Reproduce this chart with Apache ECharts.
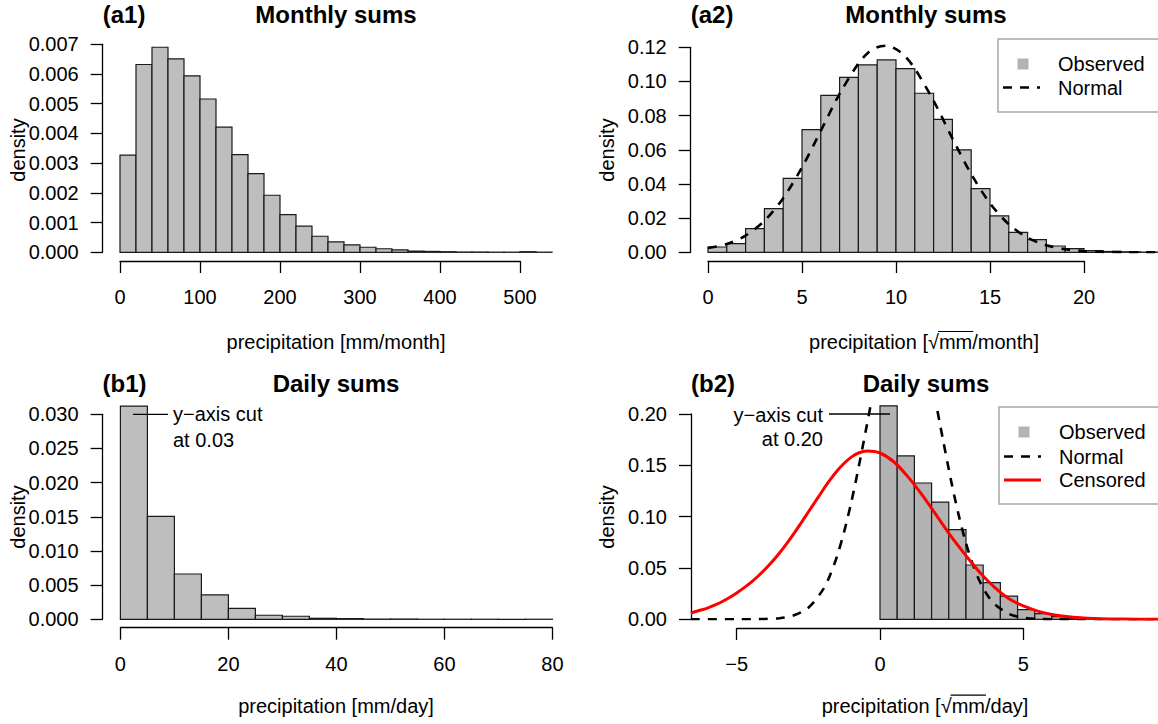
<!DOCTYPE html>
<html><head><meta charset="utf-8">
<script src="https://cdn.jsdelivr.net/npm/echarts@6/dist/echarts.min.js"></script>
<style>html,body{margin:0;padding:0;background:#fff}#c{width:1158px;height:724px}</style>
</head><body><div id="c"></div>
<script>
// ---------------- data ----------------
// (a1) monthly sums, histogram
const a1Breaks = [0,20,40,60,80,100,120,140,160,180,200,220,240,260,280,300,320,340,360,380,400,420,440,460,480,500,520,540];
const a1Density = [0.00327,0.00632,0.00690,0.00651,0.00594,0.00516,0.00421,0.00329,0.00265,0.00192,0.00127,0.00088,0.00054,0.00035,0.00025,0.00017,0.00012,0.00008,0.00004,0.00003,0.00002,0.00001,0.00001,0.000005,0.000005,0.00002,0.000005];
const a1XTicks = [0,100,200,300,400,500];
const a1YTicks = [0,0.001,0.002,0.003,0.004,0.005,0.006,0.007];

// (a2) monthly sums, sqrt-transformed
const a2Breaks = [0,1,2,3,4,5,6,7,8,9,10,11,12,13,14,15,16,17,18,19,20,21,22,23,24];
const a2Density = [0.0031,0.0051,0.0139,0.0256,0.0433,0.0718,0.0919,0.1024,0.1097,0.1126,0.1075,0.0931,0.0778,0.0599,0.0373,0.0213,0.0117,0.0074,0.0037,0.0021,0.0010,0.0005,0.0003,0.0001];
const a2NormalX = [0,1,2,3,4,5,6,7,8,8.5,9,9.5,10,10.5,11,12,13,14,15,16,17,18,19,20,21,22,23,24];
const a2NormalY = [0.0025,0.0048,0.0098,0.0184,0.0317,0.0497,0.0711,0.0928,0.1105,0.1167,0.1200,0.1209,0.1189,0.1145,0.1075,0.0887,0.0667,0.0458,0.0287,0.0164,0.0085,0.0041,0.0018,0.0007,0.00025,0.0001,0.00003,0.00001];
const a2XTicks = [0,5,10,15,20];
const a2YTicks = [0,0.02,0.04,0.06,0.08,0.10,0.12];

// (b1) daily sums, histogram (first bin cut at 0.03)
const b1Breaks = [0,5,10,15,20,25,30,35,40,45,50,55,60,65,70,75,80];
const b1Density = [0.172,0.01507,0.00663,0.00356,0.00161,0.00059,0.00045,0.00015,0.0001,0.00003,0.00004,0.00001,0.00001,0.00001,0.00001,0.00001];
const b1XTicks = [0,20,40,60,80];
const b1YTicks = [0,0.005,0.010,0.015,0.020,0.025,0.030];

// (b2) daily sums, sqrt-transformed (first bin cut at 0.20)
const b2Breaks = [0,0.6,1.2,1.8,2.4,3.0,3.6,4.2,4.8,5.4,6.0,6.6,7.2,7.8,8.4,9.0];
const b2Density = [1.04,0.1592,0.1328,0.1142,0.0874,0.0529,0.0357,0.0225,0.0094,0.0055,0.0026,0.0012,0.0005,0.0002,0.0001];
const b2NormalX = [-6.6,-5,-4.5,-4,-3.5,-3,-2.5,-2,-1.75,-1.5,-1.25,-1,-0.75,-0.5,-0.25,0,0.4,0.82,1.2,1.6,1.9,2.2,2.5,2.75,3,3.25,3.5,3.75,4,4.5,5,5.5,6,7,8,10];
const b2NormalY = [0,0,0.00006,0.0003,0.0011,0.0039,0.0113,0.0284,0.0425,0.0614,0.0854,0.1143,0.1475,0.1832,0.2193,0.2527,0.2933,0.3093,0.2962,0.2577,0.2179,0.1745,0.1324,0.1010,0.0742,0.0525,0.0358,0.0234,0.0148,0.0053,0.0016,0.0004,0.0001,0,0,0];
const b2CensX = [-6.6,-6.25,-6,-5.75,-5.5,-5.25,-5,-4.75,-4.5,-4.25,-4,-3.75,-3.5,-3.25,-3,-2.75,-2.5,-2.25,-2,-1.75,-1.5,-1.25,-1,-0.75,-0.45,0,0.5,1,1.5,2,2.5,3,3.5,4,4.5,5,5.5,6,6.5,7,7.5,8,9,10];
const b2CensY = [0.0062,0.0090,0.0112,0.0140,0.0173,0.0212,0.0257,0.0306,0.0360,0.0422,0.0490,0.0565,0.0648,0.0740,0.0838,0.0940,0.1045,0.1150,0.1255,0.1355,0.1445,0.1520,0.1580,0.1620,0.1640,0.162,0.153,0.138,0.120,0.100,0.080,0.062,0.045,0.031,0.020,0.013,0.008,0.0047,0.0027,0.0014,0.0007,0.0004,0.0001,0.00002];
const b2XTicks = [-5,0,5];
const b2YTicks = [0,0.05,0.10,0.15,0.20];

// ---------------- layout ----------------
const FONT = '"Liberation Sans", Arial, Helvetica, sans-serif';
const INK = '#000';
const panels = [
  {x0:120,  xs:0.8,   y0:252.3, ys:29714,  xr:[0,540],    yr:[0,0.0072], xLine:261,   yLine:102.7, xT:a1XTicks, yT:a1YTicks, yDec:3},
  {x0:708,  xs:18.8,  y0:252.3, ys:1708.3, xr:[0,24],     yr:[0,0.125],  xLine:261,   yLine:690.7, xT:a2XTicks, yT:a2YTicks, yDec:2},
  {x0:120.4,xs:5.4,   y0:619.3, ys:6833,   xr:[0,80],     yr:[0,0.0312], xLine:627.7, yLine:102.6, xT:b1XTicks, yT:b1YTicks, yDec:3},
  {x0:880,  xs:28.66, y0:619.3, ys:1026.5, xr:[-6.6,10],  yr:[0,0.208],  xLine:628,   yLine:691,   xT:b2XTicks, yT:b2YTicks, yDec:2}
];
const grids = [], xAxes = [], yAxes = [];
const axisLineStyle = {color: INK, width: 1.3};
panels.forEach((p, k) => {
  const px = v => p.x0 + v * p.xs, py = v => p.y0 - v * p.ys;
  // data grid
  grids.push({left: px(p.xr[0]), top: py(p.yr[1]), width: (p.xr[1]-p.xr[0]) * p.xs, height: (p.yr[1]-p.yr[0]) * p.ys, outerBoundsMode: 'none'});
  xAxes.push({gridIndex: 2*k, type: 'value', min: p.xr[0], max: p.xr[1], show: false});
  yAxes.push({gridIndex: 2*k, type: 'value', min: p.yr[0], max: p.yr[1], show: false});
  // axis grid (R style detached axes)
  const xt = p.xT, yt = p.yT;
  grids.push({left: px(xt[0]), top: py(yt[yt.length-1]), width: px(xt[xt.length-1]) - px(xt[0]), height: py(yt[0]) - py(yt[yt.length-1]), outerBoundsMode: 'none'});
  xAxes.push({gridIndex: 2*k+1, type: 'value', min: xt[0], max: xt[xt.length-1], interval: xt[1]-xt[0], position: 'bottom',
    offset: p.xLine - p.y0,
    axisLine: {show: true, onZero: false, lineStyle: axisLineStyle},
    axisTick: {show: true, length: 12, lineStyle: axisLineStyle},
    axisLabel: {show: true, margin: 26, fontSize: 20, color: INK, fontFamily: FONT, showMinLabel: true, showMaxLabel: true,
      formatter: v => (v < 0 ? '\u2212' + Math.abs(v) : String(v))},
    splitLine: {show: false}});
  yAxes.push({gridIndex: 2*k+1, type: 'value', min: yt[0], max: yt[yt.length-1], interval: yt[1]-yt[0], position: 'left',
    offset: px(xt[0]) - p.yLine,
    axisLine: {show: true, onZero: false, lineStyle: axisLineStyle},
    axisTick: {show: true, length: 12, lineStyle: axisLineStyle},
    axisLabel: {show: true, margin: 24, fontSize: 20, color: INK, fontFamily: FONT, showMinLabel: true, showMaxLabel: true,
      formatter: v => v.toFixed(p.yDec)},
    splitLine: {show: false}});
});

function hist(k, breaks, dens, fill) {
  return {
    type: 'custom', xAxisIndex: 2*k, yAxisIndex: 2*k, z: 2,
    data: dens.map((d, i) => [breaks[i], breaks[i+1], d]),
    encode: {x: [0, 1], y: 2},
    renderItem(params, api) {
      const a = api.coord([api.value(0), api.value(2)]);
      const b = api.coord([api.value(1), 0]);
      const cs = params.coordSys;
      const top = Math.max(a[1], cs.y);
      return {type: 'rect', shape: {x: a[0], y: top, width: b[0] - a[0], height: b[1] - top},
        style: {fill: fill, stroke: '#1a1a1a', lineWidth: 1.2}};
    }
  };
}
function curve(k, xs, ys, color, width, dashed) {
  return {type: 'line', xAxisIndex: 2*k, yAxisIndex: 2*k, z: 5, clip: true,
    data: xs.map((x, i) => [x, ys[i]]), showSymbol: false, symbol: 'none', smooth: 0.3,
    lineStyle: {color: color, width: width, type: dashed ? [9, 8] : 'solid', cap: 'butt'},
    silent: true, animation: false};
}

const series = [
  hist(0, a1Breaks, a1Density, '#bebebe'),
  hist(1, a2Breaks, a2Density, '#bebebe'),
  curve(1, a2NormalX, a2NormalY, '#000', 2.6, true),
  hist(2, b1Breaks, b1Density, '#bebebe'),
  hist(3, b2Breaks, b2Density, '#b3b3b3'),
  curve(3, b2NormalX, b2NormalY, '#000', 2.6, true),
  curve(3, b2CensX, b2CensY, '#ff0000', 3, false)
];

// ---------------- text & annotations ----------------
const mctx = document.createElement('canvas').getContext('2d');
mctx.font = '20px ' + FONT;
const tw = s => mctx.measureText(s).width;
function txt(x, y, s, size, opts) {
  opts = opts || {};
  const f = (opts.bold ? 'bold ' : '') + size + 'px ' + FONT;
  return {type: 'text', x: x, y: y, rotation: opts.rot || 0, z: 100,
    style: {text: s, font: f, fill: opts.color || INK, textAlign: opts.align || 'left', align: opts.align || 'left',
      textVerticalAlign: 'middle', verticalAlign: 'middle'}};
}
function seg(x1, y1, x2, y2, color, w, dash) {
  return {type: 'line', z: 100, shape: {x1, y1, x2, y2}, style: {stroke: color, lineWidth: w, lineDash: dash || null}};
}
function sqrtLabel(cx, cy, pre, mid, post) {
  const W = tw(pre + mid + post);
  const x0 = cx - W / 2;
  const xa = x0 + tw(pre), xb = xa + tw(mid);
  return [txt(x0, cy, pre + mid + post, 20), seg(xa - 1, cy - 10.5, xb + 1, cy - 10.5, INK, 1.2)];
}
function legend(x, y, h, items) {
  const g = [{type: 'rect', z: 99, shape: {x: x, y: y, width: 200, height: h}, style: {fill: '#fff', stroke: '#a8a8a8', lineWidth: 1.5}}];
  items.forEach(it => {
    if (it.kind === 'box') g.push({type: 'rect', z: 100, shape: {x: x + 19.5, y: it.y - 5.5, width: 11, height: 11}, style: {fill: '#b3b3b3'}});
    else g.push(seg(x + 5, it.y, x + 42, it.y, it.color, it.w, it.dash));
    g.push(txt(x + 60, it.y, it.label, 20));
  });
  return g;
}

const graphics = [
  txt(102.7, 14.3, '(a1)', 24, {bold: true}),
  txt(336, 14.3, 'Monthly sums', 24, {bold: true, align: 'center'}),
  txt(18, 150, 'density', 20, {align: 'center', rot: Math.PI / 2}),
  txt(336, 342, 'precipitation [mm/month]', 20, {align: 'center'}),

  txt(690.7, 14.3, '(a2)', 24, {bold: true}),
  txt(926, 14.3, 'Monthly sums', 24, {bold: true, align: 'center'}),
  txt(607, 150, 'density', 20, {align: 'center', rot: Math.PI / 2}),
  ...sqrtLabel(924, 342, 'precipitation [\u221A', 'mm', '/month]'),
  ...legend(998, 39, 73, [
    {kind: 'box', y: 64, label: 'Observed'},
    {kind: 'line', y: 87.5, label: 'Normal', color: '#000', w: 2.6, dash: [9, 8]}
  ]),

  txt(102.6, 383.3, '(b1)', 24, {bold: true}),
  txt(336, 383.3, 'Daily sums', 24, {bold: true, align: 'center'}),
  txt(18, 517, 'density', 20, {align: 'center', rot: Math.PI / 2}),
  txt(336, 705.7, 'precipitation [mm/day]', 20, {align: 'center'}),
  seg(133, 414.3, 168, 414.3, INK, 1.3),
  txt(173, 414.3, 'y\u2212axis cut', 20),
  txt(173, 440, 'at 0.03', 20),

  txt(691, 383.3, '(b2)', 24, {bold: true}),
  txt(926, 383.3, 'Daily sums', 24, {bold: true, align: 'center'}),
  txt(607, 517, 'density', 20, {align: 'center', rot: Math.PI / 2}),
  ...sqrtLabel(925, 705.7, 'precipitation [\u221A', 'mm', '/day]'),
  seg(829, 414, 890, 414, INK, 1.3),
  txt(823, 414.5, 'y\u2212axis cut', 20, {align: 'right'}),
  txt(823, 439, 'at 0.20', 20, {align: 'right'}),
  ...legend(999, 407, 97, [
    {kind: 'box', y: 432, label: 'Observed'},
    {kind: 'line', y: 456.5, label: 'Normal', color: '#000', w: 2.6, dash: [9, 8]},
    {kind: 'line', y: 480, label: 'Censored', color: '#ff0000', w: 3}
  ])
];

const chart = echarts.init(document.getElementById('c'), null, {renderer: 'svg', width: 1158, height: 724});
chart.setOption({
  animation: false,
  backgroundColor: '#fff',
  textStyle: {fontFamily: FONT},
  grid: grids,
  xAxis: xAxes,
  yAxis: yAxes,
  series: series,
  graphic: {elements: graphics}
});
</script>
</body></html>
